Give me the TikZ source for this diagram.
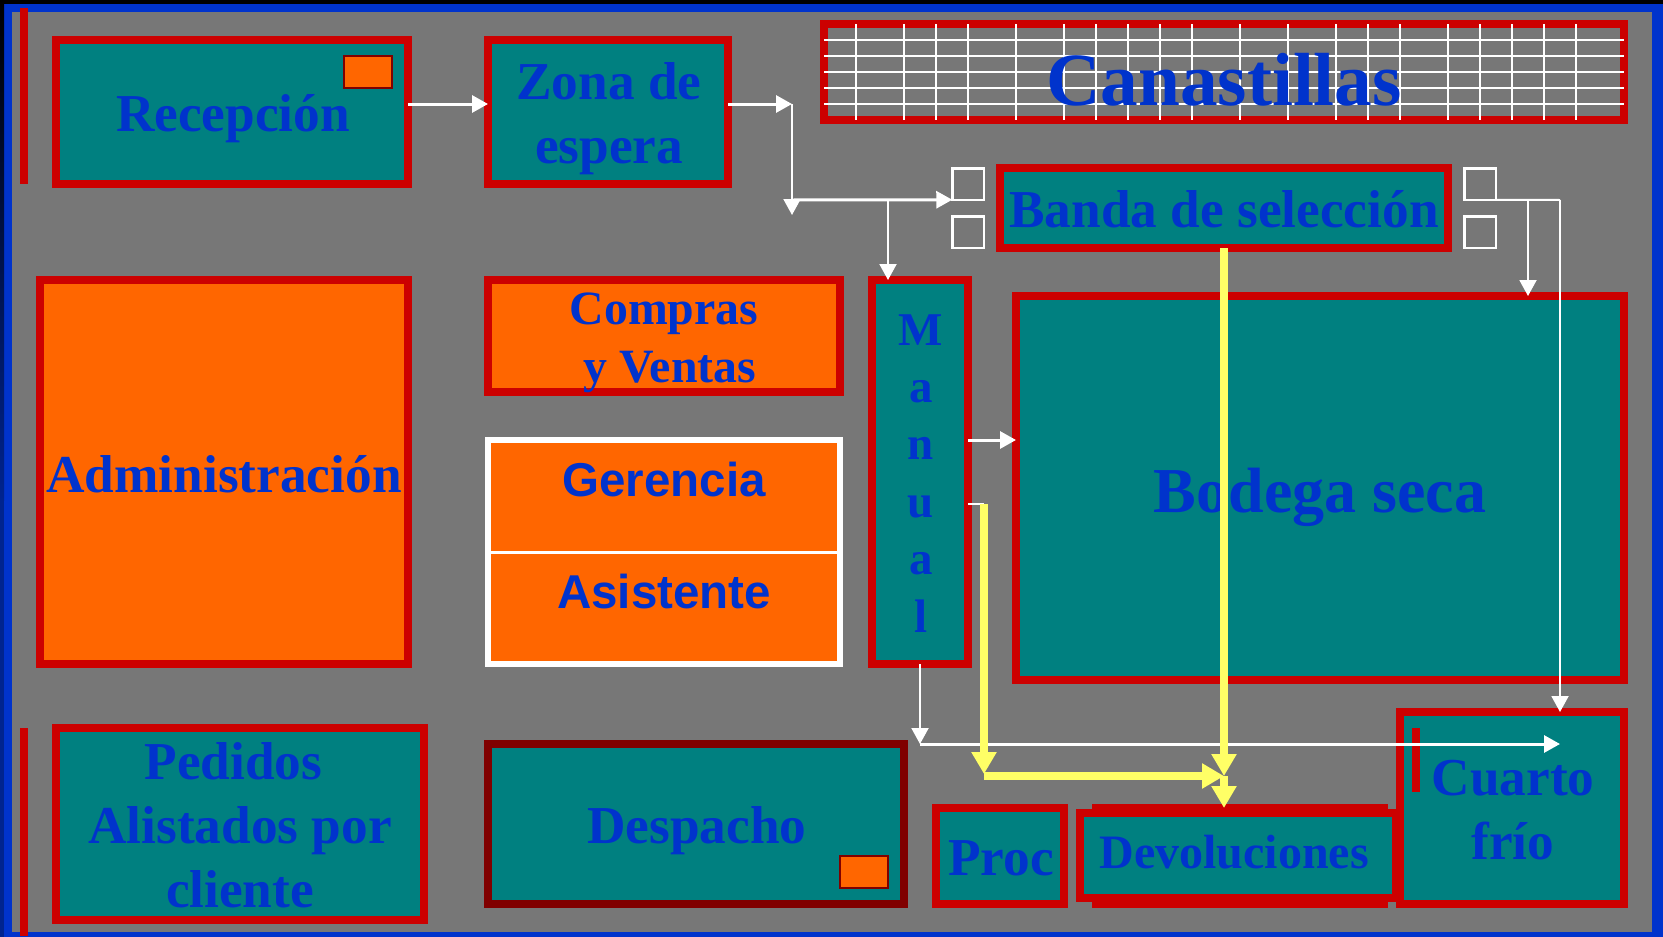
\documentclass[tikz,border=0pt]{standalone}
\usepackage{fontspec}
\setmainfont{Liberation Serif}
\setsansfont{Liberation Sans}
\usetikzlibrary{arrows.meta}
\definecolor{fondogris}{HTML}{777777}
\definecolor{azulmarco}{HTML}{0033CC}
\definecolor{azuloscuro}{HTML}{001A66}
\definecolor{rojomuro}{HTML}{CC0000}
\definecolor{rojooscuro}{HTML}{800000}
\definecolor{verdecuarto}{HTML}{008080}
\definecolor{naranja}{HTML}{FF6600}
\definecolor{amarillo}{HTML}{FFFF66}
\tikzset{
  cuarto/.style={draw=rojomuro,fill=verdecuarto,line width=8pt,outer sep=0pt,inner sep=0pt},
  oficina/.style={cuarto,fill=naranja},
  testigo/.style={draw=rojooscuro,fill=naranja,line width=2pt,outer sep=0pt,inner sep=0pt,minimum width=48pt,minimum height=32pt},
  cuadrito/.style={draw=white,line width=2.5pt,outer sep=0pt,inner sep=0pt,minimum width=31.5pt,minimum height=31.5pt},
  rotulo/.style={anchor=base,inner sep=0pt,text=azulmarco,align=center,font=\bfseries\fontsize{53.3}{64}\selectfont},
  flecha/.style={draw=white,line width=3pt,-{Triangle[length=16pt,width=17pt]}},
  fina/.style={flecha,line width=2pt},
  amarilla/.style={draw=amarillo,line width=7.5pt,-{Triangle[length=22pt,width=24pt]}}
}
\begin{document}
\begin{tikzpicture}[x=1pt,y=-1pt]
  \useasboundingbox (0,0) rectangle (1663,937);
  \fill[black] (0,0) rectangle (1663,937);
  \fill[azulmarco] (0,4) rectangle (1663,937);
  \shade[top color=black,bottom color=azulmarco!70!black] (0,0) rectangle (4,500);
  \fill[azulmarco!70!black] (0,500) rectangle (4,937);
  \fill[fondogris] (12,12) rectangle (1652,932);
  \fill[rojomuro] (20,8) rectangle (28,184);
  \fill[rojomuro] (20,728) rectangle (28,936);

  \node (recepcion) [cuarto,minimum width=352pt,minimum height=144pt] at (232,112) {};
  \node (testigoa) [testigo] at (368,72) {};
  \node (zona) [cuarto,minimum width=240pt,minimum height=144pt] at (608,112) {};
  \node (canastillas) [cuarto,fill=fondogris,minimum width=800pt,minimum height=96pt] at (1224,72) {};
  \foreach \y in {40,56,72,88,104}
    \draw[white,line width=2pt] (824,\y) -- (1624,\y);
  \foreach \x in {856,904,936,968,1016,1064,1096,1128,1160,1192,1240,1288,1336,1368,1400,1448,1480,1512,1544,1576}
    \draw[white,line width=2pt] (\x,24) -- (\x,120);
  \node (banda) [cuarto,minimum width=448pt,minimum height=80pt] at (1224,208) {};
  \node (cuadroa) [cuadrito] at (968,184) {};
  \node (cuadrob) [cuadrito] at (968,232) {};
  \node (cuadroc) [cuadrito] at (1480,184) {};
  \node (cuadrod) [cuadrito] at (1480,232) {};
  \node (admin) [oficina,minimum width=368pt,minimum height=384pt] at (224,472) {};
  \node (compras) [oficina,minimum width=352pt,minimum height=112pt] at (664,336) {};
  \node (gerencia) [oficina,draw=white,line width=6pt,minimum width=352pt,minimum height=224pt] at (664,552) {};
  \draw[white,line width=3pt] (gerencia.west) -- (gerencia.east);
  \node (manual) [cuarto,minimum width=96pt,minimum height=384pt] at (920,472) {};
  \node (bodega) [cuarto,minimum width=608pt,minimum height=384pt] at (1320,488) {};
  \node (pedidos) [cuarto,minimum width=368pt,minimum height=192pt] at (240,824) {};
  \node (despacho) [cuarto,draw=rojooscuro,minimum width=416pt,minimum height=160pt] at (696,824) {};
  \node (testigob) [testigo] at (864,872) {};
  \node (proc) [cuarto,minimum width=128pt,minimum height=96pt] at (1000,856) {};
  \node (devolfondo) [cuarto,minimum width=288pt,minimum height=96pt] at (1240,856) {};
  \node (devol) [cuarto,minimum width=316pt,minimum height=85pt] at (1238,855.5) {};
  \node (frio) [cuarto,minimum width=224pt,minimum height=192pt] at (1512,808) {};
  \fill[rojomuro] (1412,728) rectangle (1420,792);

  % textos
  \node (trecepcion) [rotulo] at (233,131) {Recepción};
  \node (tzona) [rotulo] at (609,163) {Zona de\\espera};
  \node (tcanastillas) [rotulo,font=\bfseries\fontsize{75.3}{80}\selectfont] at (1224,105) {Canastillas};
  \node (tbanda) [rotulo] at (1224,227) {Banda de selección};
  \node (tadmin) [rotulo] at (224,492) {Administración};
  \node (tcompras) [rotulo,font=\bfseries\fontsize{47.8}{58}\selectfont] at (664,382) {Compras\\\hspace*{12pt}y Ventas};
  \node (tgerencia) [rotulo,font=\sffamily\bfseries\fontsize{47.5}{56}\selectfont] at (664,496) {Gerencia};
  \node (tasistente) [rotulo,font=\sffamily\bfseries\fontsize{47.5}{56}\selectfont] at (664,608) {Asistente};
  \node (tmanual) [rotulo,font=\bfseries\fontsize{47}{57.4}\selectfont] at (921,632) {M\\a\\n\\u\\a\\l};
  \node (tbodega) [rotulo,font=\bfseries\fontsize{64}{70}\selectfont] at (1320,512) {Bodega seca};
  \node (tpedidos) [rotulo] at (240,907) {Pedidos\hspace{13pt}\null\\Alistados por\\cliente};
  \node (tdespacho) [rotulo] at (697,843) {Despacho};
  \node (tproc) [rotulo] at (1001,875) {Proc};
  \node (tdevol) [rotulo,font=\bfseries\fontsize{48}{56}\selectfont] at (1234,868) {Devoluciones};
  \node (tfrio) [rotulo] at (1513,859) {Cuarto\\frío};

  % recorrido blanco
  \coordinate (giro) at (792,104);
  \coordinate (caida) at (792,215);
  \coordinate (ramal) at (792,200);
  \coordinate (cruce) at (888,200);
  \coordinate (ramalb) at (1528,200);
  \coordinate (ramalc) at (1560,200);
  \coordinate (salida) at (968,440);
  \coordinate (stub) at (968,504);
  \coordinate (bajada) at (920,744);
  \coordinate (remate) at (1560,744);
  \draw[flecha] ([yshift=8pt]recepcion.east) -- ([yshift=8pt]zona.west);
  \draw[flecha] ([yshift=8pt]zona.east) -- (giro);
  \draw[fina] (giro) -- (caida);
  \draw[flecha] (ramal) -- (cuadroa.south west);
  \draw[fina] (cruce) -- (cruce |- manual.north);
  \draw[draw=white,line width=2pt] (cuadroc.south east) -- (ramalc);
  \draw[fina] (ramalb) -- (ramalb |- bodega.north);
  \draw[fina] (ramalc) -- (ramalc |- frio.north);
  \draw[flecha] (salida) -- (salida -| bodega.west);
  \draw[draw=white,line width=2.5pt] (stub) -- (984,504);
  \draw[fina] (manual.south) -- (bajada);
  \draw[flecha] (bajada) -- (remate);

  % recorrido amarillo
  \coordinate (cruceam) at (1224,776);
  \coordinate (codo) at (984,776);
  \draw[amarilla] (984,504) -- (984,774);
  \draw[amarilla] (banda.south) -- (1224,776);
  \draw[amarilla] (codo) -- (cruceam);
  \draw[amarilla] (cruceam) -- (1224,808);
\end{tikzpicture}
\end{document}
